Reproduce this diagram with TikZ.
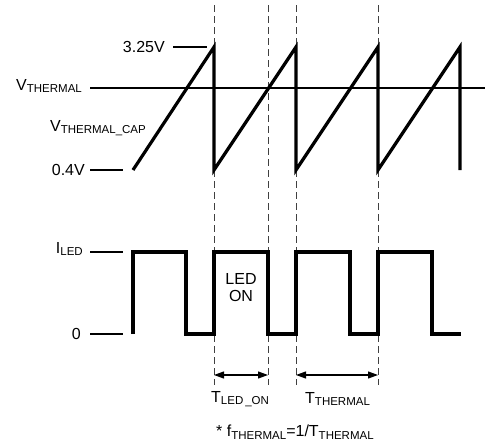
\documentclass[tikz,border=0pt]{standalone}
\usepackage{fontspec}
\setmainfont{Liberation Sans}
\usetikzlibrary{arrows.meta}
\newcommand{\sbs}[1]{\raisebox{-2.4pt}{\fontsize{11.5}{11.5}\selectfont #1}}
\begin{document}
\begin{tikzpicture}[x=1pt,y=-1pt,
  lbl/.style={inner sep=0pt,font=\fontsize{16}{16}\selectfont},
  thin line/.style={line width=1.1pt},
  wave/.style={line width=3.2pt,line join=miter,line cap=butt},
  guide/.style={line width=0.9pt,dash pattern=on 7pt off 4pt,black!75},
  dim/.style={line width=1.1pt,{Triangle[length=10pt,width=7pt]}-{Triangle[length=10pt,width=7pt]}}]
\useasboundingbox (0,0) rectangle (485,447);
% guide coordinates
\coordinate (g1t) at (214,5);   \coordinate (g1b) at (214,385);
\coordinate (g2t) at (268,5);   \coordinate (g2b) at (268,385);
\coordinate (g3t) at (296,5);   \coordinate (g3b) at (296,385);
\coordinate (g4t) at (378,5);   \coordinate (g4b) at (378,385);
\draw[guide] (g1t) -- (g1b);
\draw[guide] (g2t) -- (g2b);
\draw[guide] (g3t) -- (g3b);
\draw[guide] (g4t) -- (g4b);
% threshold line
\coordinate (vt1) at (90,88); \coordinate (vt2) at (485,88);
\draw[thin line] (vt1) -- (vt2);
% labels top
\node[lbl,anchor=east] (l325) at (165,47) {3.25V};
\coordinate (t325a) at (173,47); \coordinate (t325b) at (207,47);
\draw[thin line] (t325a) -- (t325b);
\node[lbl,anchor=west] (lvt) at (16,86) {V\sbs{THERMAL}};
\node[lbl,anchor=east] (lvc) at (146,128) {V\sbs{THERMAL\_CAP}};
\node[lbl,anchor=east] (l04) at (85,170) {0.4V};
\coordinate (t04a) at (90,170); \coordinate (t04b) at (123,170);
\draw[thin line] (t04a) -- (t04b);
% sawtooth
\draw[wave] (133,170) -- (214,47) -- (214,170) -- (296,47) -- (296,170)
  -- (378,47) -- (378,170) -- (460,47) -- (460,170);
% bottom labels
\node[lbl,anchor=east] (lil) at (83,249) {I\sbs{LED}};
\coordinate (tila) at (90,252); \coordinate (tilb) at (123,252);
\draw[thin line] (tila) -- (tilb);
\node[lbl,anchor=east] (l0) at (81,334) {0};
\coordinate (t0a) at (90,334); \coordinate (t0b) at (123,334);
\draw[thin line] (t0a) -- (t0b);
% square wave
\draw[wave] (133,334) -- (133,252) -- (186,252) -- (186,334) -- (214,334)
  -- (214,252) -- (268,252) -- (268,334) -- (296,334) -- (296,252)
  -- (350,252) -- (350,334) -- (378,334) -- (378,252) -- (432,252)
  -- (432,334) -- (461,334);
\node[lbl,align=center] (ledon) at (241,288) {LED\\[1pt]ON};
% dimension arrows
\coordinate (a1) at (214,375); \coordinate (a2) at (268,375);
\coordinate (a3) at (296,375); \coordinate (a4) at (378,375);
\draw[dim] (a1) -- (a2);
\draw[dim] (a3) -- (a4);
\node[lbl,anchor=west] (tled) at (211,399) {T\sbs{LED\,\_ON}};
\node[lbl,anchor=west] (tth) at (305,399) {T\sbs{THERMAL}};
\node[lbl,anchor=west] (fn) at (216,432) {* f\sbs{THERMAL}=1/T\sbs{THERMAL}};
\end{tikzpicture}
\end{document}
